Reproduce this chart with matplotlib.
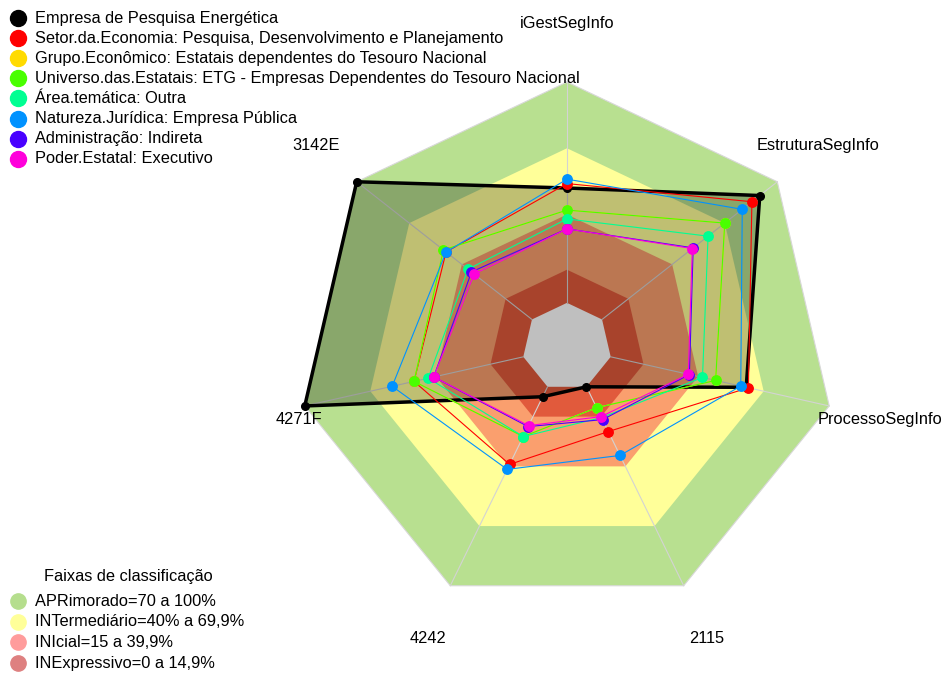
import numpy as np
import matplotlib
matplotlib.use("Agg")
import matplotlib.pyplot as plt

plt.rcParams["font.family"] = ["Liberation Sans", "DejaVu Sans"]

# ---------------- data ----------------
axis_labels = ["iGestSegInfo", "EstruturaSegInfo", "ProcessoSegInfo",
               "2115", "4242", "4271F", "3142E"]

series_names = [
    "Empresa de Pesquisa Energética",
    "Setor.da.Economia: Pesquisa, Desenvolvimento e Planejamento",
    "Grupo.Econômico: Estatais dependentes do Tesouro Nacional",
    "Universo.das.Estatais: ETG - Empresas Dependentes do Tesouro Nacional",
    "Área.temática: Outra",
    "Natureza.Jurídica: Empresa Pública",
    "Administração: Indireta",
    "Poder.Estatal: Executivo",
]
series_colors = ["#000000", "#FF0000", "#FFDB00", "#49FF00",
                 "#00FF92", "#0092FF", "#4900FF", "#FF00DB"]

empresa       = [52, 90, 62, 0, 5, 100, 100]
setor         = [54, 85.5, 63, 22.5, 39, 50, 49]
grupo         = [42, 70, 48, 10.5, 25, 50, 50.5]
universo      = [42, 70, 48, 10.5, 25, 50, 50.5]
area_tematica = [38, 60.5, 42, 15.5, 25, 43.5, 36.5]
natureza      = [56, 80, 59.5, 34.5, 41.5, 60, 49]
administracao = [33.5, 52, 36, 16.5, 20, 41, 34.5]
poder         = [33.5, 51.5, 35.5, 15, 19.5, 41, 33]
series_values = [empresa, setor, grupo, universo, area_tematica,
                 natureza, administracao, poder]

band_names = ["APRimorado=70 a 100%", "INTermediário=40% a 69,9%",
              "INIcial=15 a 39,9%", "INExpressivo=0 a 14,9%"]
band_upper = [100, 70, 40, 15]
band_colors = ["#B8E090", "#FFFF99", "#FA9F6E", "#E15A3C"]
band_legend_colors = ["#B5DE8D", "#FFFF99", "#FF9C9C", "#DE8080"]
legend_band_title = "Faixas de classificação"

# ---------------- geometry ----------------
n = len(axis_labels)
theta = np.deg2rad(90 - np.arange(n) * 360.0 / n)
hole = 1.0 / 6.0


def radius(v):
    return hole + np.asarray(v, dtype=float) / 100.0 * (1 - hole)


def xy(values, close=False):
    r = radius(values)
    x = r * np.cos(theta)
    y = r * np.sin(theta)
    if close:
        x = np.append(x, x[0])
        y = np.append(y, y[0])
    return x, y


W, H = 948, 673
cx, cy, Rx, Ry = 567, 347, 269, 265
FS = 11.8
fig = plt.figure(figsize=(W / 100, H / 100), dpi=100)
ax = fig.add_axes([0, 0, 1, 1])
ax.set_xlim(-cx / Rx, (W - cx) / Rx)
ax.set_ylim(-(H - cy) / Ry, cy / Ry)
ax.axis("off")

# bands
for up, col in zip(band_upper, band_colors):
    x, y = xy([up] * n)
    ax.fill(x, y, color=col, lw=0, zorder=1)
x, y = xy([0] * n)
ax.fill(x, y, color="white", lw=0, zorder=1)
x, y = xy([100] * n, close=True)
ax.plot(x, y, color="#D8D8D8", lw=0.8, zorder=2)

# spokes
for t in theta:
    ax.plot([hole * np.cos(t), np.cos(t)], [hole * np.sin(t), np.sin(t)],
            color="#D3D3D3", lw=0.8, zorder=2)

# series
for i, (vals, col) in enumerate(zip(series_values, series_colors)):
    xc, yc = xy(vals, close=True)
    xp, yp = xy(vals)
    z = 3 + i
    if i == 0:
        ax.fill(xp, yp, color="black", alpha=0.25, lw=0, zorder=z)
        ax.plot(xc, yc, color=col, lw=2.5, zorder=z)
        ax.plot(xp, yp, "o", color=col, ms=5.5, zorder=z)
    else:
        ax.plot(xc, yc, color=col, lw=0.8, zorder=z)
        ax.plot(xp, yp, "o", color=col, ms=6.8, mec=col, zorder=z)

# axis labels
label_shift = [0, 0, 0, 0, 0, 45, 0]
for lab, t, dx in zip(axis_labels, theta, label_shift):
    ax.annotate(lab, (1.195 * np.cos(t), 1.222 * np.sin(t)), xytext=(dx * 0.72, 0),
                textcoords="offset points", ha="center", va="center",
                fontsize=FS, zorder=20)

# legends (pixel overlay)
lax = fig.add_axes([0, 0, 1, 1], facecolor="none")
lax.set_xlim(0, W)
lax.set_ylim(H, 0)
lax.axis("off")
for i, (name, col) in enumerate(zip(series_names, series_colors)):
    yy = 18 + i * 20.1
    lax.plot([18], [yy], "o", color=col, ms=11.5)
    lax.text(35, yy, name, va="center", ha="left", fontsize=FS)

lax.text(128, 577, legend_band_title, ha="center", va="center", fontsize=FS)
for i, (name, col) in enumerate(zip(band_names, band_legend_colors)):
    yy = 601 + i * 20.7
    lax.plot([18], [yy], "o", color=col, ms=11)
    lax.text(35, yy, name, va="center", ha="left", fontsize=FS)

fig.savefig("out.png", dpi=100)
